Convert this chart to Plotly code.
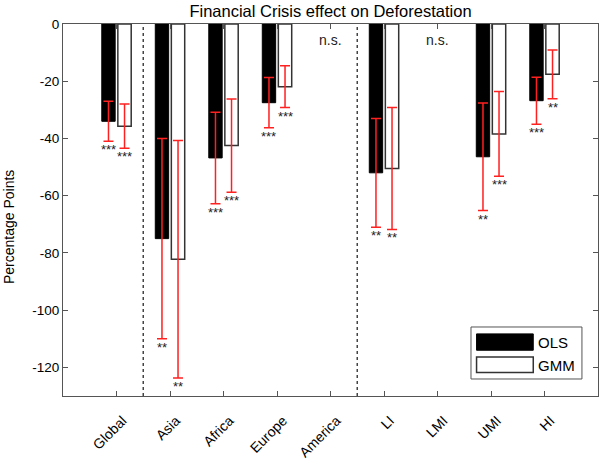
import plotly.graph_objects as go

categories = ["Global", "Asia", "Africa", "Europe", "America", "LI", "LMI", "UMI", "HI"]
ols = [-34.0, -75.0, -46.8, -27.5, None, -52.0, None, -46.4, -26.8]
ols_err = [7.0, 35.0, 16.0, 8.8, None, 19.0, None, 18.8, 8.2]
gmm = [-35.7, -82.2, -42.5, -21.9, None, -50.5, None, -38.4, -17.6]
gmm_err = [7.7, 41.5, 16.3, 7.3, None, 21.3, None, 14.8, 8.5]
ols_sig = ["***", "**", "***", "***", "", "**", "", "**", "***"]
gmm_sig = ["***", "**", "***", "***", "", "**", "", "***", "**"]
ns_label = ["", "", "", "", "n.s.", "", "n.s.", "", ""]
y_ticks = [0, -20, -40, -60, -80, -100, -120]

xpos = list(range(1, len(categories) + 1))
FONT = "Liberation Sans, Arial, sans-serif"
AX = "#555555"
BW = 0.25
OFF = [-0.275, 0.025]

fig = go.Figure()
fig.add_trace(go.Bar(
    x=xpos, y=ols, name="OLS", width=BW, offset=OFF[0],
    marker=dict(color="black", line=dict(color="black", width=1)),
    error_y=dict(type="data", array=ols_err, color="#ff2020", thickness=1.5, width=5),
    showlegend=False))
fig.add_trace(go.Bar(
    x=xpos, y=gmm, name="GMM", width=BW, offset=OFF[1],
    marker=dict(color="white", line=dict(color="#333333", width=1.5)),
    error_y=dict(type="data", array=gmm_err, color="#ff2020", thickness=1.5, width=5),
    showlegend=False))

ann = []
for i, xv in enumerate(xpos):
    for vals, errs, sig, off in ((ols, ols_err, ols_sig, OFF[0]), (gmm, gmm_err, gmm_sig, OFF[1])):
        if vals[i] is not None and sig[i]:
            ann.append(dict(x=xv + off + BW / 2, y=vals[i] - errs[i], xref="x", yref="y",
                            text=sig[i], showarrow=False, yanchor="top", yshift=1,
                            font=dict(family=FONT, size=13, color="#222")))
    if ns_label[i]:
        ann.append(dict(x=xv, y=-5.5, xref="x", yref="y", text=ns_label[i], showarrow=False,
                        font=dict(family=FONT, size=14, color="#222")))

# y-axis title
ann.append(dict(x=-0.101, y=0.454, xref="paper", yref="paper", text="Percentage Points",
                textangle=-90, showarrow=False, xanchor="center", yanchor="middle",
                font=dict(family=FONT, size=14, color="black")))

# legend drawn manually
shapes = []
shapes.append(dict(type="rect", xref="paper", yref="paper", x0=0.7626, x1=0.970, y0=0.0457, y1=0.1855,
                   line=dict(color=AX, width=1), fillcolor="white", layer="above"))
shapes.append(dict(type="rect", xref="paper", yref="paper", x0=0.773, x1=0.879, y0=0.123, y1=0.167,
                   line=dict(color="black", width=1), fillcolor="black", layer="above"))
shapes.append(dict(type="rect", xref="paper", yref="paper", x0=0.773, x1=0.879, y0=0.063, y1=0.105,
                   line=dict(color="#333333", width=1.5), fillcolor="white", layer="above"))
ann.append(dict(x=0.884, y=0.143, xref="paper", yref="paper", text="OLS", showarrow=False,
                xanchor="left", yanchor="middle", font=dict(family=FONT, size=15, color="black")))
ann.append(dict(x=0.884, y=0.081, xref="paper", yref="paper", text="GMM", showarrow=False,
                xanchor="left", yanchor="middle", font=dict(family=FONT, size=15, color="black")))

# dotted separators
for xs in (1.5, 5.5):
    shapes.append(dict(type="line", xref="x", yref="paper", x0=xs, x1=xs, y0=0, y1=1,
                       line=dict(color="#444", width=1.5, dash="dot")))

fig.update_layout(
    width=602, height=459,
    margin=dict(l=63, r=4, t=24, b=63),
    paper_bgcolor="white", plot_bgcolor="white",
    barmode="overlay",
    title=dict(text="Financial Crisis effect on Deforestation", x=0.5, xref="paper",
               y=1 - 11 / 459, yref="container", yanchor="middle",
               font=dict(family=FONT, size=16.5, color="black")),
    font=dict(family=FONT, size=13, color="black"),
    annotations=ann, shapes=shapes,
    xaxis=dict(range=[0, 10], tickvals=xpos, ticktext=categories, tickangle=-45,
               showline=True, linecolor=AX, linewidth=1.2, mirror="ticks",
               ticks="inside", ticklen=5, tickcolor=AX, tickwidth=1,
               ticklabelstandoff=10, ticklabelshift=6, automargin=False,
               showgrid=False, zeroline=False, tickfont=dict(size=14)),
    yaxis=dict(range=[-130, 0], tickvals=y_ticks, ticktext=[str(v) for v in y_ticks],
               showline=True, linecolor=AX, linewidth=1.2, automargin=False,
               mirror="ticks", ticks="inside", ticklen=5, tickcolor=AX, tickwidth=1,
               showgrid=False, zeroline=False, tickfont=dict(size=13.5)),
)

fig.write_html("out.html")
